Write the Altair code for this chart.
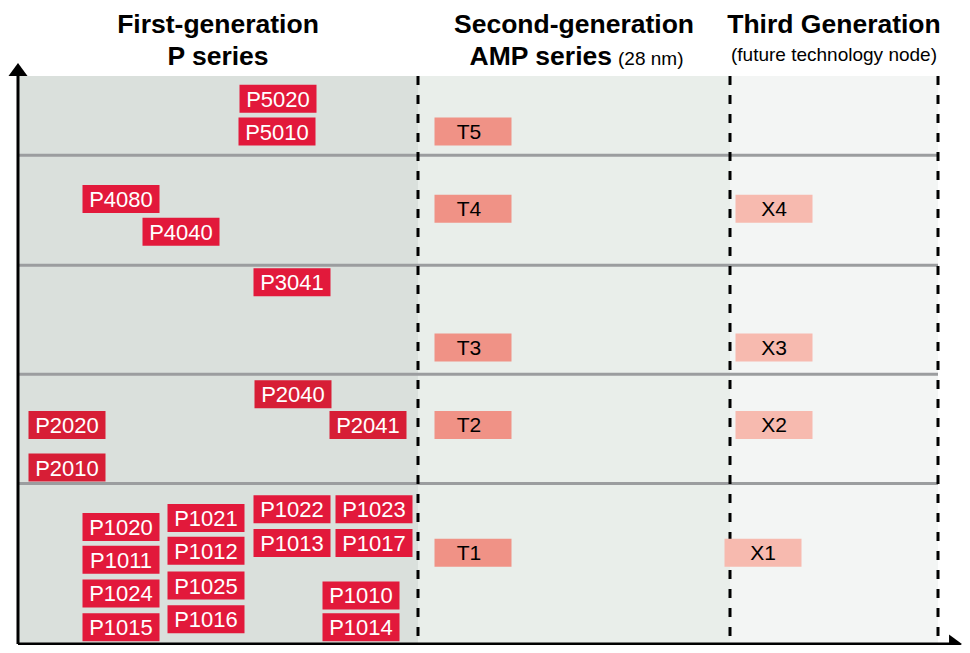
import altair as alt
import pandas as pd

# ---------------- data ----------------
# First-generation P series: label, horizontal position, vertical level
p_names = ["P5020", "P5010", "P4080", "P4040", "P3041", "P2040", "P2020", "P2041",
           "P2010", "P1022", "P1023", "P1020", "P1021", "P1013", "P1017", "P1011",
           "P1012", "P1024", "P1025", "P1010", "P1015", "P1016", "P1014"]
p_x = [260, 259, 103, 163, 274, 275, 49, 350, 49, 274, 356, 103, 188, 274, 356,
       103, 188, 103, 188, 343, 103, 188, 343]
p_y = [550, 517, 449, 416, 365, 252, 221, 221, 178, 136, 136, 118, 127, 102, 102,
       85, 94, 51, 59, 49, 17, 25, 17]

# Second-generation AMP series (28 nm)
t_names = ["T5", "T4", "T3", "T2", "T1"]
t_x = [455, 455, 455, 455, 455]
t_y = [517, 439, 299, 221, 92]

# Third generation (future technology node)
x_names = ["X4", "X3", "X2", "X1"]
x_x = [756, 756, 756, 745]
x_y = [439, 299, 221, 92]

# generation bands and tier boundaries
gen_names = ["First", "Second", "Third"]
gen_start = [0, 400, 712]
gen_end = [400, 712, 920]
tier_bounds = [162, 272, 382, 493]

title_line1 = ["First-generation", "Second-generation", "Third Generation"]

X_DOMAIN = [0, 920]
Y_DOMAIN = [0, 573]
W, H = 920, 568
FONT = "Liberation Sans"

# ---------------- tables ----------------
p_df = pd.DataFrame({"name": p_names, "x": p_x, "y": p_y})
p_df["tier"] = p_df["name"].str[1]
t_df = pd.DataFrame({"name": t_names, "x": t_x, "y": t_y})
x_df = pd.DataFrame({"name": x_names, "x": x_x, "y": x_y})
gen_df = pd.DataFrame({"gen": gen_names, "x0": gen_start, "x1": gen_end})
gen_df["cx"] = (gen_df["x0"] + gen_df["x1"]) / 2
gen_df["line1"] = title_line1
tier_df = pd.DataFrame({"y": tier_bounds})
dash_df = pd.DataFrame({"x": gen_end})
one = pd.DataFrame({"a": [0]})

xs = alt.Scale(domain=X_DOMAIN)
ys = alt.Scale(domain=Y_DOMAIN)

def X(f):
    return alt.X(f, type="quantitative", scale=xs, axis=None)

def Y(f):
    return alt.Y(f, type="quantitative", scale=ys, axis=None)

bands = alt.Chart(gen_df).mark_rect().encode(
    x=X("x0"), x2="x1",
    y=alt.datum(0, type="quantitative", scale=ys, axis=None), y2=alt.datum(573),
    color=alt.Color("gen:N", scale=alt.Scale(domain=gen_names,
                    range=["#dae0dc", "#e9eeea", "#f3f5f4"]), legend=None),
)

hlines = alt.Chart(tier_df).mark_rule(color="#9b9d9f", strokeWidth=3).encode(
    y=Y("y"), x=alt.value(0), x2=alt.value(W)
)

dashes = alt.Chart(dash_df).mark_rule(color="black", strokeWidth=3,
                                      strokeDash=[9, 10]).encode(
    x=X("x"), y=alt.value(0), y2=alt.value(H)
)

p_box = alt.Chart(p_df).mark_rect(width=77, height=28).encode(
    x=X("x"), y=Y("y"),
    color=alt.Color("tier:N", scale=alt.Scale(domain=["1", "2", "3", "4", "5"],
                    range=["#e2193b", "#d71e36", "#e2193b", "#e2193b", "#e2193b"]),
                    legend=None),
)
p_txt = alt.Chart(p_df).mark_text(color="white", fontSize=22, font=FONT,
                                  baseline="middle", dy=1).encode(
    x=X("x"), y=Y("y"), text="name:N"
)

t_box = alt.Chart(t_df).mark_rect(width=77, height=28, color="#f09286").encode(
    x=X("x"), y=Y("y")
)
t_txt = alt.Chart(t_df).mark_text(color="black", fontSize=21, font=FONT,
                                  baseline="middle", dx=-4, dy=1).encode(
    x=X("x"), y=Y("y"), text="name:N"
)
x_box = alt.Chart(x_df).mark_rect(width=77, height=28, color="#f7baaf").encode(
    x=X("x"), y=Y("y")
)
x_txt = alt.Chart(x_df).mark_text(color="black", fontSize=21, font=FONT,
                                  baseline="middle", dy=1).encode(
    x=X("x"), y=Y("y"), text="name:N"
)

# axes with arrow heads
y_axis = alt.Chart(one).mark_rule(color="black", strokeWidth=3).encode(
    x=alt.value(0), y=alt.value(-4), y2=alt.value(H)
)
x_axis = alt.Chart(one).mark_rule(color="black", strokeWidth=3).encode(
    y=alt.value(H), x=alt.value(0), x2=alt.value(932)
)
up_arrow = alt.Chart(one).mark_point(
    shape="M-1,0.68L0,-0.68L1,0.68Z", filled=True, size=361, color="black",
    opacity=1, strokeWidth=0).encode(x=alt.value(0), y=alt.value(-6.5))
right_arrow = alt.Chart(one).mark_point(
    shape="M-0.68,-1L0.68,0L-0.68,1Z", filled=True, size=361, color="black",
    opacity=1, strokeWidth=0).encode(x=alt.value(937.5), y=alt.value(H))

# headings
TS = 26.5
t1 = alt.Chart(gen_df).mark_text(fontSize=TS, fontWeight="bold", font=FONT,
                                 baseline="alphabetic", color="black").encode(
    x=X("cx"), y=alt.value(-43), text="line1:N"
)
head_df = gen_df.copy()
g1 = alt.Chart(head_df[head_df.gen == "First"]).mark_text(
    fontSize=TS, fontWeight="bold", font=FONT, baseline="alphabetic",
    color="black").encode(x=X("cx"), y=alt.value(-11), text=alt.value("P series"))
g2a = alt.Chart(head_df[head_df.gen == "Second"]).mark_text(
    fontSize=TS, fontWeight="bold", font=FONT, baseline="alphabetic", align="right",
    dx=38, color="black").encode(x=X("cx"), y=alt.value(-11),
                                 text=alt.value("AMP series"))
g2b = alt.Chart(head_df[head_df.gen == "Second"]).mark_text(
    fontSize=19, font=FONT, baseline="alphabetic", align="left",
    dx=44, color="black").encode(x=X("cx"), y=alt.value(-11),
                                 text=alt.value("(28 nm)"))
g3 = alt.Chart(head_df[head_df.gen == "Third"]).mark_text(
    fontSize=19, font=FONT, baseline="alphabetic", color="black").encode(
    x=X("cx"), y=alt.value(-15), text=alt.value("(future technology node)"))

chart = alt.layer(
    bands, hlines, dashes, p_box, p_txt, t_box, t_txt, x_box, x_txt,
    y_axis, x_axis, up_arrow, right_arrow, t1, g1, g2a, g2b, g3
).resolve_scale(color="independent").properties(
    width=W, height=H,
    autosize=alt.AutoSizeParams(type="none"),
    padding={"left": 10, "top": 68, "right": 24, "bottom": 1},
).configure_view(stroke=None)

chart.save("out.html", embed_options={"renderer": "svg", "actions": False})
